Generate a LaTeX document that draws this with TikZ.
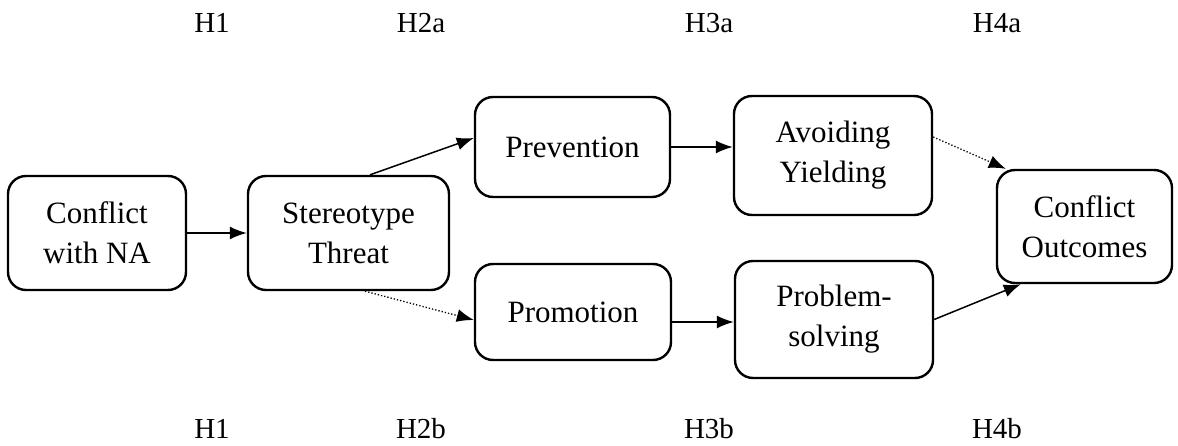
\documentclass[tikz,border=0pt]{standalone}
\usepackage{fontspec}
\setmainfont{Liberation Serif}
\usetikzlibrary{arrows.meta}
\begin{document}
\begin{tikzpicture}[x=1pt,y=-1pt,
  box/.style={draw, line width=2.4pt, rounded corners=18pt, align=center,
    inner sep=0pt, font=\fontsize{31}{40}\selectfont},
  lab/.style={anchor=base, inner sep=0pt, font=\fontsize{29}{34}\selectfont},
  arr/.style={line width=1.5pt, -{Latex[length=17pt,width=13pt]}},
  darr/.style={line width=1.3pt, dotted, -{Latex[length=17pt,width=13pt]}}]
\useasboundingbox (0,0) rectangle (1178,446);
\node[box, minimum width=178pt, minimum height=114pt] (cna) at (97,233) {Conflict\\with NA};
\node[box, minimum width=201pt, minimum height=114pt] (st) at (348.5,233) {Stereotype\\Threat};
\node[box, minimum width=195pt, minimum height=100pt] (prev) at (572.5,147) {Prevention};
\node[box, minimum width=196pt, minimum height=96pt] (prom) at (573,312) {Promotion};
\node[box, minimum width=198pt, minimum height=119pt] (avy) at (833,155.5) {Avoiding\\Yielding};
\node[box, minimum width=198pt, minimum height=117pt] (ps) at (834,319.5) {Problem-\\solving};
\node[box, minimum width=175pt, minimum height=113pt] (co) at (1084.5,226.5) {Conflict\\Outcomes};
\node[lab] (t1) at (212,33) {H1};
\node[lab] (t2) at (421,33) {H2a};
\node[lab] (t3) at (709,33) {H3a};
\node[lab] (t4) at (997,33) {H4a};
\node[lab] (b1) at (212,438) {H1};
\node[lab] (b2) at (421,438) {H2b};
\node[lab] (b3) at (709,438) {H3b};
\node[lab] (b4) at (997,438) {H4b};
\coordinate (pa) at ([yshift=-10pt]prom.east);
\draw[arr] (cna.east) -- (st.west);
\draw[arr] ([xshift=21.5pt]st.north) -- ([yshift=9pt]prev.west);
\draw[darr] ([xshift=16.5pt]st.south) -- ([yshift=-8pt]prom.west);
\draw[arr] (prev.east) -- (avy.west |- prev.east);
\draw[arr] (pa) -- (ps.west |- pa);
\draw[darr] ([yshift=18.5pt]avy.east) -- ([xshift=10pt]co.north west);
\draw[arr] (ps.east) -- ([xshift=25pt]co.south west);
\end{tikzpicture}
\end{document}
